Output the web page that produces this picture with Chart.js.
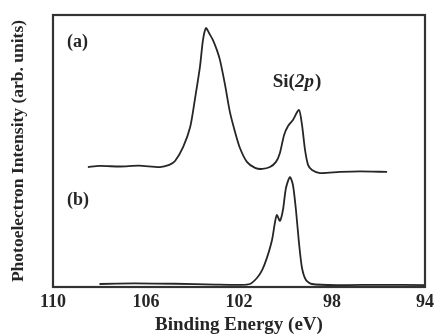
<!DOCTYPE html>
<html>
<head>
<meta charset="utf-8">
<script src="https://cdn.jsdelivr.net/npm/chart.js@4.4.1/dist/chart.umd.min.js"></script>
<style>
  html, body { margin: 0; padding: 0; background: #fff; }
  #wrap { width: 435px; height: 334px; }
</style>
</head>
<body>
<div id="wrap"><canvas id="xpsChart"></canvas></div>
<script>
// Binding energy (eV) and intensity for spectrum (a)
const energyA = [108.5, 108.0, 107.1, 106.3, 105.4, 105.0, 104.75, 104.4, 104.1, 103.9, 103.68, 103.55, 103.42,
  103.29, 103.12, 102.95, 102.82, 102.6, 102.39, 102.17, 101.96, 101.66, 101.31, 101.0, 100.67, 100.41,
  100.24, 100.06, 99.89, 99.68, 99.42, 99.29, 99.16, 99.03, 98.86, 98.52, 97.66, 96.8, 95.63];
const intensityA = [44.1, 44.5, 44.3, 44.6, 44.1, 44.9, 46.3, 51.5, 58.8, 68.8, 80.9, 90.8, 95.2,
  93.4, 90.8, 87.1, 83.5, 74.3, 64.3, 57.0, 51.1, 46.0, 43.8, 43.4, 44.1, 46.0,
  49.3, 55.9, 59.2, 61.4, 65.1, 59.6, 50.4, 44.9, 43.0, 41.9, 42.3, 42.5, 42.3];

// Spectrum (b)
const energyB = [108.0, 106.5, 104.75, 103.0, 101.96, 101.53, 101.23, 101.0, 100.8, 100.58, 100.45, 100.37,
  100.24, 100.11, 99.98, 99.81, 99.68, 99.55, 99.42, 99.29, 99.12, 98.86, 97.66, 96.0, 94.0];
const intensityB = [1.1, 1.3, 1.2, 0.9, 0.8, 1.1, 3.3, 6.3, 10.7, 17.3, 23.9, 26.5,
  24.3, 28.3, 36.4, 40.4, 37.5, 28.3, 16.2, 7.0, 2.6, 1.1, 0.7, 0.8, 0.7];

const xTicks = [110, 106, 102, 98, 94];

const serif = "'Liberation Serif', 'Times New Roman', serif";
const ink = '#262626';

function toPoints(xs, ys) {
  return xs.map((x, i) => ({ x: x, y: ys[i] }));
}

// frame round the plot area plus the text labels inside it
const framePlugin = {
  id: 'frame',
  afterDraw(chart) {
    const { ctx, chartArea: a, scales } = chart;
    ctx.save();
    ctx.strokeStyle = '#333';
    ctx.lineWidth = 2.2;
    ctx.strokeRect(a.left, a.top, a.right - a.left, a.bottom - a.top);

    ctx.fillStyle = ink;
    ctx.textBaseline = 'middle';
    ctx.font = 'bold 18px ' + serif;
    ctx.fillText('(a)', scales.x.getPixelForValue(109.4), scales.y.getPixelForValue(90));
    ctx.fillText('(b)', scales.x.getPixelForValue(109.4), scales.y.getPixelForValue(32));

    // Si(2p) with italic 2p
    let px = scales.x.getPixelForValue(100.55);
    const py = scales.y.getPixelForValue(75.5);
    ctx.font = 'bold 19px ' + serif;
    ctx.fillText('Si(', px, py);
    px += ctx.measureText('Si(').width;
    ctx.font = 'italic bold 19px ' + serif;
    ctx.fillText('2p', px, py);
    px += ctx.measureText('2p').width + 1;
    ctx.font = 'bold 19px ' + serif;
    ctx.fillText(')', px, py);
    ctx.restore();
  }
};

const ctx = document.getElementById('xpsChart').getContext('2d');
const xpsChart = new Chart(ctx, {
  type: 'line',
  data: {
    datasets: [
      {
        label: '(a)',
        data: toPoints(energyA, intensityA),
        borderColor: ink,
        borderWidth: 1.8,
        pointRadius: 0,
        tension: 0.25
      },
      {
        label: '(b)',
        data: toPoints(energyB, intensityB),
        borderColor: ink,
        borderWidth: 1.8,
        pointRadius: 0,
        tension: 0.25
      }
    ]
  },
  options: {
    responsive: true,
    maintainAspectRatio: false,
    animation: false,
    layout: { padding: { left: 0, right: 10, top: 15, bottom: 0 } },
    plugins: {
      legend: { display: false },
      tooltip: { enabled: false }
    },
    scales: {
      x: {
        type: 'linear',
        reverse: true,
        min: 94,
        max: 110,
        afterBuildTicks: s => { s.ticks = xTicks.map(v => ({ value: v })); },
        afterFit: s => { s.height = 47; s.paddingLeft = 14; s.paddingRight = 9; },
        grid: { display: false, drawTicks: false },
        border: { display: false },
        ticks: {
          color: ink,
          padding: 5,
          maxRotation: 0,
          font: { family: serif, size: 18, weight: 'bold' }
        },
        title: {
          display: true,
          text: 'Binding Energy (eV)',
          color: ink,
          padding: { top: 0, bottom: -2 },
          font: { family: serif, size: 19, weight: 'bold' }
        }
      },
      y: {
        min: 0,
        max: 100,
        afterFit: s => { s.width = 53; },
        grid: { display: false, drawTicks: false },
        border: { display: false },
        ticks: { display: false },
        title: {
          display: true,
          text: 'Photoelectron Intensity (arb. units)',
          color: ink,
          padding: { top: 8, bottom: 0 },
          font: { family: serif, size: 17.5, weight: 'bold' }
        }
      }
    }
  },
  plugins: [framePlugin]
});
</script>
</body>
</html>
